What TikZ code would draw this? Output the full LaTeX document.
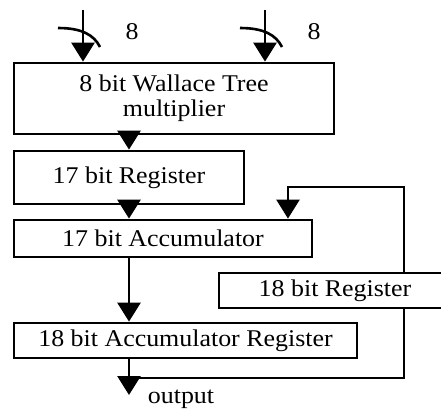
\documentclass[tikz,border=0pt]{standalone}
\usepackage{fontspec}
\setmainfont{Liberation Serif}
\usepackage{graphicx}
\usetikzlibrary{arrows.meta,positioning}
\newcommand{\wtext}[1]{\scalebox{1.08}[1]{#1}}

\begin{document}
\begin{tikzpicture}[x=0.5pt,y=-0.5pt,
    blk/.style={draw, line width=1.4pt, inner sep=0pt, align=center,
        font=\fontsize{12}{12.5}\selectfont},
    lbl/.style={font=\fontsize{12}{12.5}\selectfont, inner sep=0pt},
    wire/.style={line width=1.3pt},
    arr/.style={line width=1.4pt, -{Triangle[width=11.5pt,length=9.5pt]}}]
        \clip (0,0) rectangle (441,409);

        % Blocks
        \node[blk, minimum width=160pt, minimum height=35.5pt] (mult) at (174,98.5)
            {\wtext{8 bit Wallace Tree}\\\wtext{multiplier}};
        \node[blk, minimum width=115pt, minimum height=26.5pt] (reg17) at (129,177.5)
            {\wtext{17 bit Register}};
        \node[blk, minimum width=149pt, minimum height=18.5pt] (acc17) at (163,238.5)
            {\wtext{17 bit Accumulator}};
        \node[blk, minimum width=116pt, minimum height=17.5pt] (reg18) at (335,290.5)
            {\wtext{18 bit Register}};
        \node[blk, minimum width=171.5pt, minimum height=17.5pt] (accreg) at (185.5,340.5)
            {\wtext{18 bit Accumulator Register}};

        % Inputs
        \coordinate (in1) at (83,10);
        \coordinate (in2) at (265,10);
        \foreach \c/\n in {in1/w1,in2/w2} {
            \draw[arr] (\c) -- (\c |- mult.north);
            \draw[wire] ([shift={(-25,18)}]\c) .. controls +(24,0) and +(-6,-12) .. ([shift={(17,37)}]\c);
            \node[lbl] (\n) at ([shift={(49,22)}]\c) {\wtext{8}};
        }

        % Datapath
        \draw[arr] (reg17.north |- mult.south) -- (reg17.north);
        \draw[arr] (reg17.south) -- (reg17.south |- acc17.north);
        \draw[arr] (acc17.south -| reg17.south) -- (accreg.north -| reg17.south);

        % Feedback loop
        \coordinate (fb) at (404,187);
        \coordinate (fbin) at (288,187);
        \draw[arr, line width=1.3pt] (fb |- reg18.north) -- (fb) -- (fbin) -- (fbin |- acc17.north);

        % Output
        \coordinate (out) at (129,395);
        \coordinate (tap) at (129,378);
        \draw[wire] (tap) -- (tap -| fb) -- (fb |- reg18.south);
        \draw[arr] (accreg.south -| out) -- (out);
        \node[lbl, anchor=base] (outlbl) at (181,403) {\wtext{output}};
    \end{tikzpicture}
\end{document}
